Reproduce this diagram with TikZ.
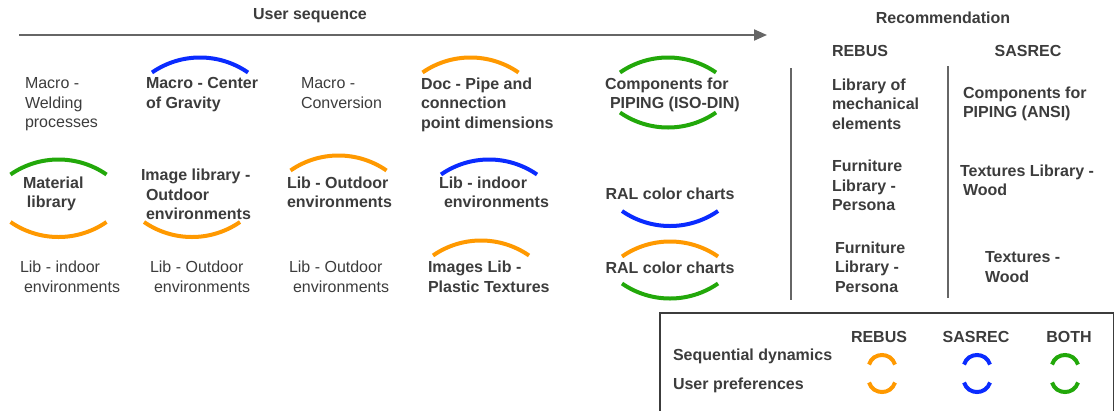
\documentclass[tikz,border=0pt]{standalone}
\usepackage{fontspec}
\setmainfont{Liberation Sans}
\usetikzlibrary{arrows.meta}
\definecolor{txtc}{HTML}{3C3C3C}
\definecolor{linec}{HTML}{666666}
\definecolor{orng}{HTML}{FF9900}
\definecolor{blu}{HTML}{0A2BFF}
\definecolor{grn}{HTML}{22A80A}
\tikzset{
  basetxt/.style={inner sep=0pt, outer sep=0pt, text=txtc, font=\fontsize{16}{19.5}\selectfont,
    align=left, anchor=west, execute at begin node=\strut, execute at end node=\strut},
  reg/.style={basetxt, yshift=-1.5pt},
  bld/.style={basetxt, yshift=-1.5pt, font=\fontsize{16}{19.5}\selectfont\bfseries},
  ctr/.style={bld, anchor=center, align=center},
  hdr/.style={basetxt, font=\fontsize{16}{19.5}\selectfont\bfseries, anchor=center, align=center},
  arcline/.style={line width=4pt},
  sepline/.style={draw=linec, line width=2pt},
}
\newcommand{\bigup}[3]{\draw[arcline,#3] ({#1-48},#2) .. controls +(28.9,-20) and +(-28.9,-20) .. ({#1+48},#2);}
\newcommand{\bigdn}[3]{\draw[arcline,#3] ({#1-48},#2) .. controls +(28.9,20) and +(-28.9,20) .. ({#1+48},#2);}
\newcommand{\smup}[3]{\draw[arcline,#3] ({#1-13},#2) .. controls +(4,-12.7) and +(-4,-12.7) .. ({#1+13},#2);}
\newcommand{\smdn}[3]{\draw[arcline,#3] ({#1-13},#2) .. controls +(4,12.7) and +(-4,12.7) .. ({#1+13},#2);}
\begin{document}
\begin{tikzpicture}[x=1pt,y=-1pt]
\useasboundingbox (0,0) rectangle (1115,410);
\clip (0,0) rectangle (1115,410);
% headers
\node[hdr] (useq) at (310,16) {User sequence};
\node[hdr] (rec) at (943,20) {Recommendation};
\node[hdr] (hreb) at (860,53) {REBUS};
\node[hdr] (hsas) at (1028,53) {SASREC};
% sequence arrow
\coordinate (seqA) at (19,35);
\coordinate (seqB) at (767,35);
\draw[linec, line width=2pt, -{Triangle[length=13pt,width=11pt]}] (seqA) -- (seqB);
% row 1
\node[reg] (a1) at (25,104.3) {Macro -\\Welding\\processes};
\node[bld] (a2) at (146,94.5) {Macro - Center\\of Gravity};
\node[reg] (a3) at (301,94.5) {Macro -\\Conversion};
\node[bld] (a4) at (421,104.3) {Doc - Pipe and\\connection\\point dimensions};
\node[bld] (a5) at (605,94.5) {Components for\\\hspace*{5pt}PIPING (ISO-DIN)};
% row 2
\node[bld] (b1) at (23,193.5) {Material\\\hspace*{4pt}library};
\node[bld] (b2) at (141,196) {Image library -\\\hspace*{5pt}Outdoor\\\hspace*{5pt}environments};
\node[bld] (b3) at (287,193.5) {Lib - Outdoor\\environments};
\node[bld] (b4) at (439,193.5) {Lib - indoor\\\hspace*{5pt}environments};
\node[ctr] (b5) at (670,194) {RAL color charts};
% row 3
\node[reg] (c1) at (20,278) {Lib - indoor\\\hspace*{4pt}environments};
\node[reg] (c2) at (150,278) {Lib - Outdoor\\\hspace*{4pt}environments};
\node[reg] (c3) at (289,278) {Lib - Outdoor\\\hspace*{4pt}environments};
\node[bld] (c4) at (428,278) {Images Lib -\\Plastic Textures};
\node[ctr] (c5) at (670,268) {RAL color charts};
% recommendation columns
\node[bld] (r1) at (832,105.3) {Library of\\mechanical\\elements};
\node[bld] (r2) at (832,187) {Furniture\\Library -\\Persona};
\node[bld] (r3) at (835,268.3) {Furniture\\Library -\\Persona};
\node[bld] (q1) at (963,103.5) {Components for\\PIPING (ANSI)};
\node[bld] (q2) at (960,181.5) {Textures Library -\\\hspace*{3pt}Wood};
\node[bld] (q3) at (985,268.5) {Textures -\\Wood};
% separators
\coordinate (v1t) at (791,68); \coordinate (v1b) at (791,300);
\coordinate (v2t) at (948,66); \coordinate (v2b) at (948,298);
\draw[sepline] (v1t) -- (v1b);
\draw[sepline] (v2t) -- (v2b);
% arcs
\bigup{200}{72.5}{blu}
\bigup{470.5}{72.5}{orng}
\bigup{668}{72.5}{grn}
\bigdn{668}{112.5}{grn}
\bigup{58.5}{174.5}{grn}
\bigdn{58.5}{222}{orng}
\bigdn{192}{222}{orng}
\bigup{338.5}{170.5}{orng}
\bigup{489}{174.5}{blu}
\bigdn{670}{211}{blu}
\bigup{481}{255.5}{orng}
\bigup{670}{256.5}{orng}
\bigdn{670}{283.5}{grn}
% legend
\draw[draw=txtc, line width=1.3pt] (660,313) rectangle (1113.5,440);
\node[bld] (lg1) at (673,355) {Sequential dynamics};
\node[bld] (lg2) at (673,384) {User preferences};
\node[hdr] (lr) at (879,339) {REBUS};
\node[hdr] (ls) at (976,339) {SASREC};
\node[hdr] (lb) at (1069,339) {BOTH};
\smup{882}{364.5}{orng}
\smdn{882}{382.5}{orng}
\smup{977}{364.5}{blu}
\smdn{977}{382.5}{blu}
\smup{1065}{364.5}{grn}
\smdn{1065}{382.5}{grn}
\end{tikzpicture}
\end{document}
